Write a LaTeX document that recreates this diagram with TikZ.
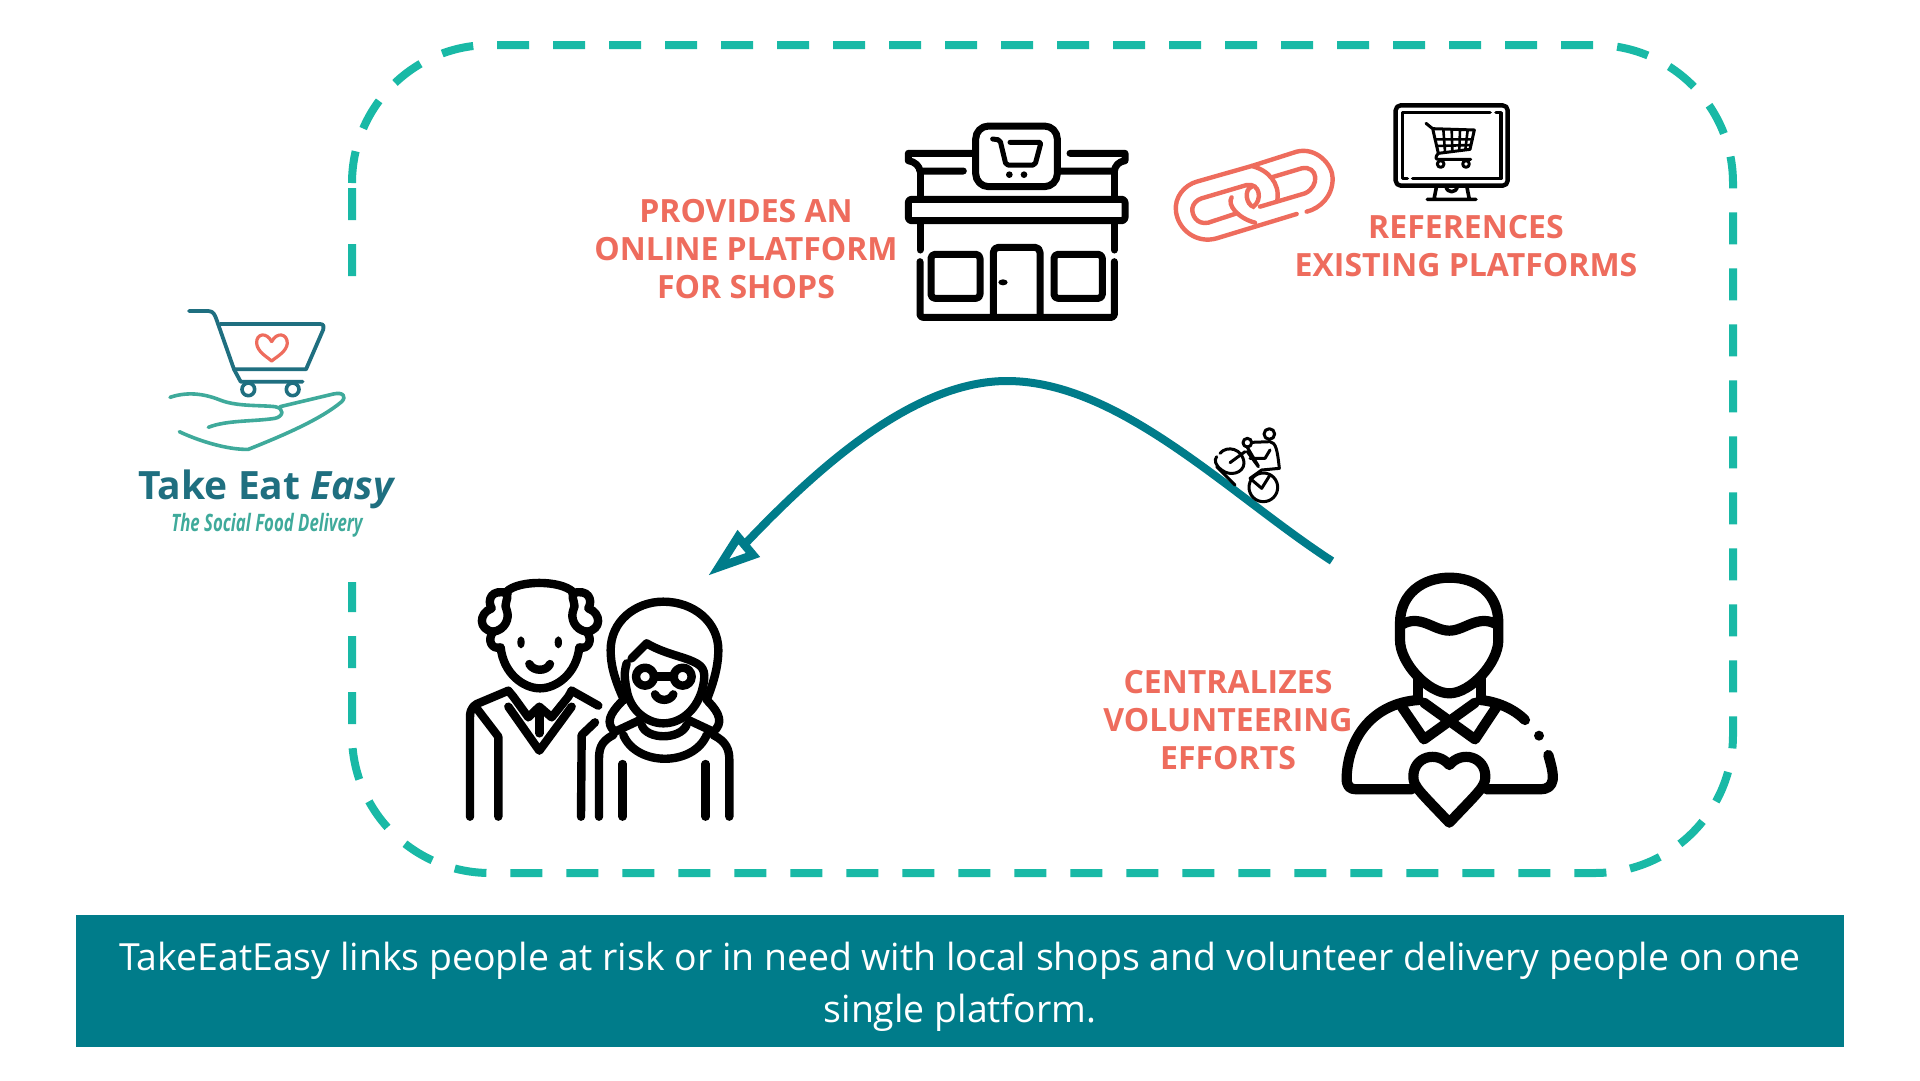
\documentclass[tikz,border=0pt]{standalone}
\usepackage{fontspec}
\setmainfont{Open Sans}
\definecolor{dashteal}{HTML}{19B9A6}
\definecolor{barteal}{HTML}{007C8A}
\definecolor{salmon}{HTML}{EE6C5D}
\definecolor{logoteal}{HTML}{1F6F80}
\definecolor{handteal}{HTML}{3FAA9B}
\tikzset{
 lbl/.style={text=salmon,font=\bfseries\fontsize{32}{38}\selectfont,align=center,inner sep=0pt},
 ico/.style={line cap=round,line join=round,draw=black},
}
\begin{document}
\begin{tikzpicture}[x=1pt,y=-1pt]
\useasboundingbox (0,0) rectangle (1920,1080);
\fill[white] (0,0) rectangle (1920,1080);
% dashed frame
\draw[dashteal,line width=8pt,dash pattern=on 32pt off 24pt]
 (352,183) arc[start angle=180,end angle=270,radius=138] -- (1595,45) arc[start angle=270,end angle=360,radius=138] -- (1733,735) arc[start angle=0,end angle=90,radius=138] -- (490,873) arc[start angle=90,end angle=180,radius=138] -- cycle;
\fill[white] (330,279) rectangle (375,582);
% bar
\fill[barteal] (76,915) rectangle (1844,1047);
\node[text=white,font=\fontsize{37.4}{52}\selectfont,align=center,inner sep=0pt] (caption) at (960,987) {TakeEatEasy links people at risk or in need with local shops and volunteer delivery people on one\\single platform.};
% labels
\node[lbl] (lshops) at (746,249) {PROVIDES AN\\ONLINE PLATFORM\\FOR SHOPS};
\node[lbl] (lrefs) at (1466,246) {REFERENCES\\EXISTING PLATFORMS};
\node[lbl] (lvol) at (1228,720.5) {CENTRALIZES\\VOLUNTEERING\\EFFORTS};
% curve
\coordinate (cstart) at (1332,561);
\coordinate (ctip) at (745,544);
\draw[barteal,line width=8pt] (cstart) .. controls (1230,495) and (1120,381) .. (1007,381) .. controls (915,381) and (820,465) .. (ctip);
\draw[barteal,line width=8.5pt,line join=miter,miter limit=8] (719,567) -- (738,537) -- (753,555) -- cycle;
% shop
\begin{scope}[shift={(880,90)},scale=1/3,ico,line width=7pt]
 \draw[rounded corners=13pt] (287,108) rectangle (532,290);
 \draw (278,190) -- (85,190) -- (85,212) .. controls (105,215) and (118,228) .. (120,243) -- (250,243);
 \draw (570,190) -- (735,190) -- (735,212) .. controls (715,215) and (705,228) .. (703,243) -- (538,243);
 \draw (120,243) -- (120,325) (703,243) -- (703,325);
 \draw[rounded corners=3pt] (85,328) rectangle (735,392);
 \draw (120,395) -- (120,480) (703,395) -- (703,480);
 \draw[rounded corners=3pt] (120,515) -- (120,682) -- (703,682) -- (703,515);
 \draw[rounded corners=4pt] (153,493) rectangle (300,625);
 \draw[rounded corners=4pt] (522,493) rectangle (667,625);
 \draw[rounded corners=5pt] (340,682) -- (340,472) -- (480,472) -- (480,682);
 \fill (369,577) ellipse[x radius=14,y radius=9];
 \draw[line width=5pt,rounded corners=2pt] (338,147) -- (360,150) -- (378,225) -- (465,225) -- (483,157) -- (390,157);
 \fill (388,254) circle[radius=10] (432,254) circle[radius=10];
\end{scope}
% chain
\begin{scope}[shift={(880,90)},scale=1/3,line cap=round,line width=4.4pt,salmon]
 \draw (1250,372) -- (1010,445) .. controls (950,462) and (895,420) .. (888,365) .. controls (882,320) and (915,285) .. (950,275) -- (1115,228) .. controls (1165,240) and (1200,280) .. (1192,330);
 \draw (1070,370) -- (985,398) .. controls (950,405) and (935,375) .. (937,355) .. controls (940,340) and (950,330) .. (965,325) -- (1100,285) .. controls (1140,278) and (1148,330) .. (1120,350) .. controls (1100,345) and (1090,300) .. (1115,290);
 \draw (1115,228) -- (1250,185) .. controls (1310,170) and (1358,225) .. (1358,265) .. controls (1358,320) and (1320,355) .. (1280,365);
 \draw (1140,350) -- (1275,310) .. controls (1320,290) and (1315,225) .. (1265,235) -- (1175,262);
 \draw (1125,398) .. controls (1075,385) and (1040,345) .. (1055,322);
\end{scope}
% monitor
\begin{scope}[shift={(1190,90)},scale=1/3,ico,line width=3.6pt]
 \draw[line width=4.4pt,rounded corners=5pt] (617,46) rectangle (953,287);
 \draw (900,68) -- (637,68) -- (637,265) -- (652,265);
 \draw (668,265) -- (933,265) -- (933,68) -- (918,68);
 \draw (740,287) -- (732,328) (830,287) -- (838,328) (712,328) -- (858,328);
 \draw (768,290) .. controls (772,310) and (798,310) .. (802,290);
 \draw[line width=3pt] (708,100) -- (728,116) -- (745,190) -- (840,178) -- (853,120) -- (728,116);
 \draw[line width=2.6pt] (735,148) -- (848,148) (740,168) -- (843,165);
 \draw[line width=2.6pt] (760,118) -- (765,185) (785,118) -- (787,183) (810,119) -- (808,181) (833,120) -- (826,179);
 \draw[line width=3pt] (745,190) .. controls (735,200) and (735,210) .. (748,208) -- (842,208);
 \draw[line width=3pt] (752,222) circle[radius=10] (828,222) circle[radius=10];
\end{scope}
% bike
\begin{scope}[shift={(1190,410)},scale=1/3,ico,line width=3pt]
 \draw (238,72) circle[radius=16];
 \draw (172,98) circle[radius=13];
 \draw (220,232) circle[radius=43];
 \draw (90,130) .. controls (110,105) and (160,115) .. (162,160) .. controls (160,190) and (120,200) .. (95,180) .. controls (75,165) and (72,150) .. (80,140);
 \draw (80,170) -- (135,225);
 \draw (185,97) -- (240,95) .. controls (258,98) and (262,120) .. (268,175) -- (215,180) -- (180,205);
 \draw (172,112) -- (205,168) (165,125) -- (120,158) (172,125) -- (205,170);
 \draw (240,120) -- (225,145) -- (180,145);
 \draw (180,205) -- (215,235) -- (240,195);
\end{scope}
% elderly
\begin{scope}[shift={(450,560)},scale=1/3,ico,line width=8.4pt]
 % man head
 \draw (170,95) .. controls (205,60) and (330,60) .. (368,95);
 \draw (172,100) .. controls (125,85) and (110,120) .. (125,145) .. controls (85,160) and (85,210) .. (130,215) .. controls (110,240) and (125,270) .. (152,262) .. controls (160,340) and (220,385) .. (270,385) .. controls (320,385) and (380,340) .. (388,262) .. controls (415,270) and (430,240) .. (410,215) .. controls (455,210) and (455,160) .. (415,145) .. controls (430,120) and (415,85) .. (368,100);
 \draw (172,100) .. controls (175,120) and (160,135) .. (170,150) .. controls (180,175) and (165,210) .. (130,215);
 \draw (368,100) .. controls (365,120) and (380,135) .. (370,150) .. controls (360,175) and (375,210) .. (410,215);
 \fill (213,247) ellipse[x radius=11,y radius=18] (325,247) ellipse[x radius=11,y radius=18];
 \draw (238,312) .. controls (250,335) and (290,335) .. (300,312);
 % collar
 \draw (175,392) -- (80,432) .. controls (60,445) and (60,460) .. (60,475) -- (60,770);
 \draw (365,392) -- (445,437);
 \draw (80,445) -- (145,530) -- (145,770);
 \draw (175,392) -- (190,410) -- (235,472) -- (268,440) -- (305,472) -- (355,410) -- (365,392);
 \draw (175,440) -- (268,572) -- (365,440);
 \draw (268,450) -- (268,520);
 \draw (435,487) -- (395,525) -- (393,770);
 % woman
 \draw (522,420) .. controls (490,350) and (482,310) .. (482,270) .. controls (482,185) and (555,125) .. (640,125) .. controls (730,125) and (805,185) .. (805,270) .. controls (805,320) and (790,370) .. (770,420);
 \draw (545,295) -- (590,250) .. controls (640,280) and (700,290) .. (730,305) .. controls (765,320) and (770,340) .. (755,395) .. controls (735,455) and (690,490) .. (640,490) .. controls (590,490) and (540,450) .. (530,390) .. controls (520,340) and (525,330) .. (530,310);
 \draw (585,350) circle[radius=27] (698,350) circle[radius=27];
 \draw (612,350) -- (672,350);
 \draw (615,403) .. controls (625,425) and (660,425) .. (670,403);
 \draw (515,425) .. controls (480,460) and (465,490) .. (495,515) -- (570,480);
 \draw (775,425) .. controls (810,460) and (820,490) .. (790,515) -- (715,480);
 \draw (575,495) .. controls (590,540) and (690,540) .. (710,495);
 \draw (520,525) .. controls (560,620) and (730,620) .. (770,525);
 \draw (490,525) .. controls (450,545) and (447,570) .. (447,600) -- (447,770);
 \draw (790,525) .. controls (830,545) and (838,570) .. (838,600) -- (838,770);
 \draw (518,612) -- (518,770) (767,612) -- (767,770);
\end{scope}
% volunteer
\begin{scope}[shift={(1320,560)},scale=1/3,ico,line width=10.2pt]
 \draw (240,190) .. controls (240,100) and (310,53) .. (388,53) .. controls (470,53) and (535,100) .. (535,190) -- (535,240) .. controls (535,310) and (450,400) .. (388,400) .. controls (325,400) and (240,310) .. (240,240) -- cycle;
 \draw (243,195) .. controls (300,160) and (340,212) .. (388,212) .. controls (435,212) and (475,160) .. (533,195);
 \draw (295,350) -- (295,420) (482,350) -- (482,420);
 \draw (295,420) .. controls (160,430) and (85,530) .. (80,650) .. controls (78,680) and (90,688) .. (110,688) -- (275,688);
 \draw (482,420) .. controls (530,425) and (580,445) .. (615,480);
 \draw (685,585) .. controls (695,620) and (700,640) .. (698,660) .. controls (695,680) and (680,688) .. (660,688) -- (500,688);
 \fill (657,527) circle[radius=15];
 \draw (245,440) -- (312,538) -- (465,428) (530,440) -- (465,538) -- (312,428);
 \draw (388,615) .. controls (350,570) and (280,590) .. (280,650) .. controls (280,680) and (300,695) .. (388,788) .. controls (476,695) and (496,680) .. (496,650) .. controls (496,590) and (426,570) .. (388,615);
\end{scope}
% logo
\begin{scope}[shift={(120,290)},scale=1/3,line cap=round,line join=round]
 \draw[logoteal,line width=3.8pt] (207,63) -- (265,63) .. controls (280,63) and (285,75) .. (290,90) -- (342,238) -- (362,275) -- (548,275);
 \draw[logoteal,line width=3.8pt] (300,102) -- (600,102) .. controls (612,102) and (612,110) .. (610,118) -- (558,238) -- (342,238);
 \draw[logoteal,line width=3.6pt] (385,298) circle[radius=19] (518,298) circle[radius=19];
 \draw[salmon,line width=3.2pt] (455,155) .. controls (440,125) and (408,130) .. (410,160) .. controls (412,185) and (440,200) .. (455,213) .. controls (470,200) and (500,185) .. (502,160) .. controls (502,130) and (470,125) .. (455,155);
 \draw[handteal,line width=3.6pt] (150,322) .. controls (200,305) and (250,310) .. (300,330) .. controls (350,350) and (420,345) .. (465,350) .. controls (495,355) and (490,380) .. (465,385) .. controls (400,395) and (320,390) .. (265,412);
 \draw[handteal,line width=3.6pt] (480,350) -- (640,312) .. controls (670,305) and (680,320) .. (665,335) .. controls (600,390) and (480,440) .. (385,478) .. controls (320,480) and (230,450) .. (178,425);
\end{scope}
\node[text=logoteal,font=\bfseries\fontsize{39}{39}\selectfont,inner sep=0pt] (logoname) at (267,489.5) {Take Eat \textit{Easy}};
\node[text=handteal,font=\bfseries\itshape\fontsize{24}{24}\selectfont,inner sep=0pt,xscale=0.7] (logotag) at (267,525.5) {The Social Food Delivery};
\end{tikzpicture}
\end{document}
